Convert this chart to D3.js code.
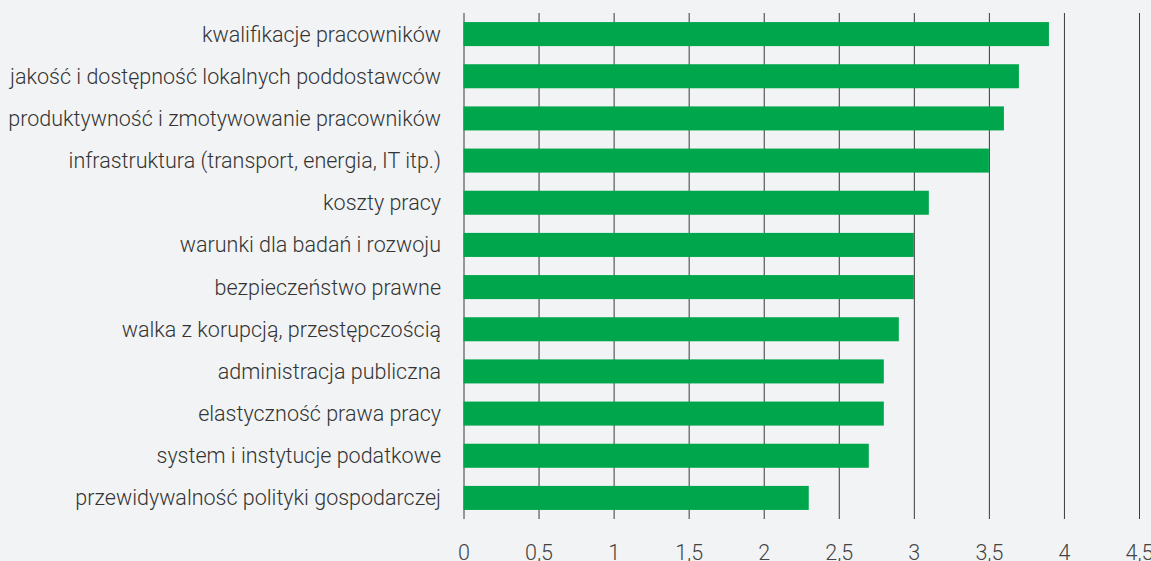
<!DOCTYPE html>
<html>
<head>
<meta charset="utf-8">
<script src="https://cdn.jsdelivr.net/npm/d3@7"></script>
<style>
  body { margin: 0; background: #f2f3f5; }
  svg { display: block; }
  text { font-family: Roboto, "Noto Sans", sans-serif; font-weight: 300; }
</style>
</head>
<body>
<svg id="chart" width="1151" height="561"></svg>
<script>
// chart data
var categories = [
  "kwalifikacje pracowników",
  "jakość i dostępność lokalnych poddostawców",
  "produktywność i zmotywowanie pracowników",
  "infrastruktura (transport, energia, IT itp.)",
  "koszty pracy",
  "warunki dla badań i rozwoju",
  "bezpieczeństwo prawne",
  "walka z korupcją, przestępczością",
  "administracja publiczna",
  "elastyczność prawa pracy",
  "system i instytucje podatkowe",
  "przewidywalność polityki gospodarczej"
];
var values = [3.9, 3.7, 3.6, 3.5, 3.1, 3.0, 3.0, 2.9, 2.8, 2.8, 2.7, 2.3];
var tickValues = [0, 0.5, 1, 1.5, 2, 2.5, 3, 3.5, 4, 4.5];

var svg = d3.select("svg#chart"),
    width = +svg.attr("width"),
    height = +svg.attr("height");

var x = d3.scaleLinear()
    .domain([0, 4.5])
    .range([463.5, 1139]);

var y = d3.scaleBand()
    .domain(categories)
    .range([13, 519])
    .paddingInner(0.43)
    .paddingOuter(0.215);

var fmt = function(d) { return String(d).replace(".", ","); };

//vertical gridlines + tick labels
var xAxis = d3.axisBottom(x)
    .tickValues(tickValues)
    .tickSize(-(519 - 13))
    .tickPadding(0)
    .tickFormat(fmt);

var gx = svg.append("g")
    .attr("transform", "translate(0,519)")
    .call(xAxis);

gx.select(".domain").remove();
gx.selectAll(".tick line")
    .attr("stroke", "#3a3a3a")
    .attr("stroke-width", 1);
gx.selectAll(".tick text")
    .attr("y", 41)
    .attr("dy", 0)
    .attr("fill", "#444")
    .style("font-size", "21.5px");

//bars
svg.append("g")
    .selectAll("rect")
    .data(values)
    .enter().append("rect")
    .attr("x", x(0))
    .attr("y", function(d, i) { return y(categories[i]); })
    .attr("width", function(d) { return x(d) - x(0); })
    .attr("height", y.bandwidth())
    .attr("fill", "#00a64c");

//category labels
svg.append("g")
    .selectAll("text")
    .data(categories)
    .enter().append("text")
    .attr("x", 441)
    .attr("y", function(d) { return y(d) + y.bandwidth() / 2; })
    .attr("dy", "0.35em")
    .attr("text-anchor", "end")
    .attr("fill", "#333")
    .style("font-size", "21.5px")
    .text(function(d) { return d; });
</script>
</body>
</html>
